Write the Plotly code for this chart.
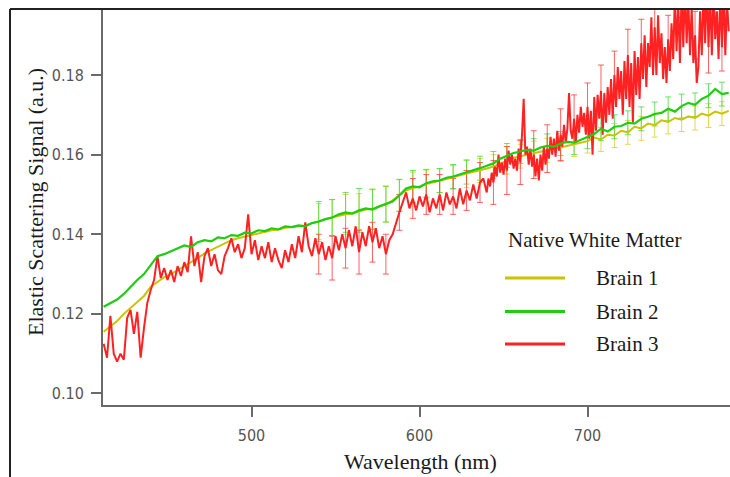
import plotly.graph_objects as go

# ---------------- data ----------------
# Brain 3: 2 nm samples up to 638 nm, then 1 nm samples (very noisy part)
red_wl = list(range(412, 640, 2)) + list(range(640, 785, 1))
red_val = [
    # 412-630 (2 nm)
    0.1125, 0.1090, 0.1195, 0.1100, 0.1080, 0.1100, 0.1085, 0.1190, 0.1210, 0.1150,
    0.1205, 0.1090, 0.1165, 0.1228, 0.1260, 0.1285, 0.1345, 0.1290, 0.1315, 0.1285,
    0.1310, 0.1280, 0.1320, 0.1295, 0.1330, 0.1305, 0.1395, 0.1320, 0.1355, 0.1280,
    0.1345, 0.1365, 0.1320, 0.1350, 0.1310, 0.1300, 0.1345, 0.1365, 0.1390, 0.1355,
    0.1375, 0.1340, 0.1365, 0.1450, 0.1350, 0.1385, 0.1335, 0.1370, 0.1340, 0.1380,
    0.1330, 0.1365, 0.1335, 0.1315, 0.1360, 0.1330, 0.1375, 0.1340, 0.1395, 0.1355,
    0.1430, 0.1370, 0.1345, 0.1390, 0.1350, 0.1380, 0.1335, 0.1370, 0.1340, 0.1395,
    0.1360, 0.1400, 0.1365, 0.1410, 0.1370, 0.1420, 0.1355, 0.1405, 0.1370, 0.1420,
    0.1380, 0.1415, 0.1365, 0.1395, 0.1350, 0.1385, 0.1400, 0.1430, 0.1455, 0.1480,
    0.1505, 0.1465, 0.1490, 0.1460, 0.1495, 0.1470, 0.1500, 0.1455, 0.1490, 0.1465,
    0.1500, 0.1460, 0.1505, 0.1475, 0.1495, 0.1465, 0.1515, 0.1475, 0.1510, 0.1485,
    # 632-638 (2 nm)
    0.1525, 0.1490, 0.1530, 0.1540,
    # 640-784 (1 nm)
    0.1505, 0.1540, 0.1520, 0.1555, 0.1530, 0.1570, 0.1545, 0.1600, 0.1555, 0.1580,
    0.1550, 0.1590, 0.1560, 0.1610, 0.1575, 0.1600, 0.1565, 0.1590, 0.1560, 0.1615,
    0.1580, 0.1650, 0.1740, 0.1600, 0.1620, 0.1575, 0.1615, 0.1570, 0.1600, 0.1545,
    0.1590, 0.1535, 0.1600, 0.1560, 0.1620, 0.1575, 0.1615, 0.1590, 0.1645, 0.1600,
    0.1640, 0.1595, 0.1660, 0.1610, 0.1650, 0.1620, 0.1675, 0.1630, 0.1665, 0.1755,
    0.1660, 0.1640, 0.1690, 0.1630, 0.1700, 0.1655, 0.1720, 0.1670, 0.1705, 0.1650,
    0.1720, 0.1640, 0.1710, 0.1600, 0.1745, 0.1660, 0.1750, 0.1690, 0.1760, 0.1650,
    0.1755, 0.1680, 0.1770, 0.1700, 0.1790, 0.1690, 0.1800, 0.1720, 0.1820, 0.1740,
    0.1810, 0.1700, 0.1835, 0.1740, 0.1850, 0.1720, 0.1830, 0.1680, 0.1860, 0.1750,
    0.1845, 0.1740, 0.1880, 0.1790, 0.1900, 0.1770, 0.1880, 0.1820, 0.1945, 0.1800,
    0.1920, 0.1800, 0.1950, 0.1830, 0.1905, 0.1790, 0.1870, 0.1780, 0.1890, 0.1810,
    0.1930, 0.1840, 0.2000, 0.1860, 0.1980, 0.1830, 0.2010, 0.1870, 0.2020, 0.1880,
    0.1990, 0.1850, 0.1970, 0.1830, 0.1900, 0.1780, 0.1820, 0.1960, 0.1850, 0.2010,
    0.1880, 0.2030, 0.1870, 0.2000, 0.1850, 0.2020, 0.1890, 0.1960, 0.1840, 0.2010,
    0.1870, 0.2020, 0.1850, 0.1990, 0.1910,
]

smooth_wl = list(range(412, 785, 4))
green_val = [
    0.1218, 0.1228, 0.1236, 0.1250, 0.1268, 0.1285, 0.1300, 0.1322, 0.1345, 0.1350,
    0.1358, 0.1365, 0.1372, 0.1368, 0.1380, 0.1385, 0.1382, 0.1392, 0.1390, 0.1398,
    0.1396, 0.1404, 0.1402, 0.1410, 0.1408, 0.1415, 0.1412, 0.1420, 0.1418, 0.1422,
    0.1420, 0.1428, 0.1432, 0.1438, 0.1442, 0.1450, 0.1455, 0.1452, 0.1460, 0.1465,
    0.1462, 0.1470, 0.1476, 0.1482, 0.1498, 0.1515, 0.1520, 0.1518, 0.1528, 0.1533,
    0.1535, 0.1542, 0.1545, 0.1550, 0.1556, 0.1560, 0.1566, 0.1572, 0.1578, 0.1590,
    0.1598, 0.1604, 0.1608, 0.1612, 0.1610, 0.1618, 0.1622, 0.1620, 0.1628, 0.1632,
    0.1630, 0.1638, 0.1645, 0.1652, 0.1665, 0.1658, 0.1670, 0.1672, 0.1680, 0.1678,
    0.1690, 0.1695, 0.1702, 0.1705, 0.1715, 0.1708, 0.1722, 0.1730, 0.1725, 0.1740,
    0.1748, 0.1765, 0.1752, 0.1755,
]
yellow_val = [
    0.1155, 0.1168, 0.1182, 0.1200, 0.1215, 0.1230, 0.1245, 0.1268, 0.1280, 0.1292,
    0.1300, 0.1310, 0.1318, 0.1328, 0.1340, 0.1352, 0.1360, 0.1368, 0.1376, 0.1385,
    0.1390, 0.1394, 0.1397, 0.1402, 0.1405, 0.1410, 0.1412, 0.1416, 0.1418, 0.1420,
    0.1422, 0.1428, 0.1432, 0.1438, 0.1442, 0.1446, 0.1450, 0.1452, 0.1457, 0.1462,
    0.1464, 0.1469, 0.1475, 0.1485, 0.1497, 0.1510, 0.1516, 0.1520, 0.1526, 0.1530,
    0.1534, 0.1538, 0.1543, 0.1548, 0.1552, 0.1556, 0.1560, 0.1565, 0.1570, 0.1578,
    0.1586, 0.1592, 0.1596, 0.1600, 0.1604, 0.1608, 0.1611, 0.1614, 0.1618, 0.1621,
    0.1625, 0.1630, 0.1634, 0.1643, 0.1638, 0.1650, 0.1648, 0.1660, 0.1656, 0.1670,
    0.1666, 0.1678, 0.1674, 0.1686, 0.1682, 0.1692, 0.1688, 0.1696, 0.1692, 0.1703,
    0.1698, 0.1708, 0.1703, 0.1710,
]

# error bars at every 8 nm from 540 to 780 nm
err_wl = list(range(540, 781, 8))
yellow_err = [0.0045, 0.0045, 0.0050, 0.0045, 0.0050, 0.0045, 0.0040, 0.0040,
              0.0035, 0.0030, 0.0030, 0.0035, 0.0030, 0.0030, 0.0035, 0.0030,
              0.0030, 0.0030, 0.0035, 0.0030, 0.0030, 0.0030, 0.0030, 0.0030,
              0.0030, 0.0030, 0.0030, 0.0030, 0.0030, 0.0030, 0.0030]
green_err = [0.0050, 0.0045, 0.0050, 0.0055, 0.0050, 0.0045, 0.0040, 0.0040,
             0.0035, 0.0030, 0.0030, 0.0030, 0.0030, 0.0030, 0.0030, 0.0030,
             0.0030, 0.0030, 0.0030, 0.0030, 0.0030, 0.0030, 0.0030, 0.0030,
             0.0030, 0.0030, 0.0030, 0.0030, 0.0030, 0.0030, 0.0030]
red_err = [0.0050, 0.0055, 0.0050, 0.0055, 0.0050, 0.0050, 0.0045, 0.0050,
           0.0050, 0.0050, 0.0045, 0.0050, 0.0050, 0.0055, 0.0060, 0.0055,
           0.0060, 0.0060, 0.0065, 0.0060, 0.0060, 0.0065, 0.0060, 0.0065,
           0.0060, 0.0065, 0.0060, 0.0065, 0.0060, 0.0065, 0.0060]

series_names = ["Brain 1", "Brain 2", "Brain 3"]
legend_title = "Native White Matter"
x_title = "Wavelength (nm)"
y_title = "Elastic Scattering Signal (a.u.)"
x_ticks = [500, 600, 700]
y_ticks = [0.10, 0.12, 0.14, 0.16, 0.18]

assert len(red_wl) == len(red_val)
assert len(smooth_wl) == len(green_val) == len(yellow_val)

# ---------------- styling ----------------
YEL = "#c9c400"
GRN = "#1fcc10"
RED = "#ff2222"
AXC = "#6a6a6a"
SERIF = "Liberation Serif, Times New Roman, serif"
NARROW = "DejaVu Sans Condensed, Liberation Sans Narrow, Arial Narrow, sans-serif"

fig = go.Figure()

def add_errbars(wl, vals, err, errcolor):
    ys = [vals[wl.index(w)] for w in err_wl]
    fig.add_trace(go.Scatter(
        x=err_wl, y=ys, mode="markers",
        marker=dict(size=1, color="rgba(0,0,0,0)"),
        error_y=dict(type="data", array=err, thickness=1, width=3, color=errcolor),
        showlegend=False, hoverinfo="skip"))

# error bars (drawn first, underneath lines)
add_errbars(smooth_wl, yellow_val, yellow_err, "rgba(215,210,40,0.8)")
add_errbars(smooth_wl, green_val, green_err, "rgba(60,215,60,0.75)")
add_errbars(red_wl, red_val, red_err, "rgba(255,60,60,0.8)")

fig.add_trace(go.Scatter(x=smooth_wl, y=yellow_val, mode="lines", name=series_names[0],
                         line=dict(color=YEL, width=2), showlegend=False))
fig.add_trace(go.Scatter(x=red_wl, y=red_val, mode="lines", name=series_names[2],
                         line=dict(color=RED, width=2), showlegend=False))
fig.add_trace(go.Scatter(x=smooth_wl, y=green_val, mode="lines", name=series_names[1],
                         line=dict(color=GRN, width=2.2), showlegend=False))

# plot geometry in px
L, R, T, B = 103, 0, 10, 72
W, H = 730, 477
PW, PH = W - L - R, H - T - B

def px(xp):
    return (xp - L) / PW

def py(yp):
    return (H - B - yp) / PH

shapes = []
annotations = []
# outer frame (top + left)
shapes.append(dict(type="line", xref="paper", yref="paper", x0=px(10), x1=px(730),
                   y0=py(9), y1=py(9), line=dict(color="#222222", width=2)))
shapes.append(dict(type="line", xref="paper", yref="paper", x0=px(10), x1=px(10),
                   y0=py(9), y1=py(478), line=dict(color="#222222", width=2)))

# manual legend
leg_colors = [YEL, GRN, RED]
leg_y = [278, 311.5, 344]
for name, c, yy in zip(series_names, leg_colors, leg_y):
    shapes.append(dict(type="line", xref="paper", yref="paper", x0=px(505), x1=px(565),
                       y0=py(yy), y1=py(yy), line=dict(color=c, width=3)))
    annotations.append(dict(xref="paper", yref="paper", x=px(594), y=py(yy), text=name,
                            showarrow=False, xanchor="left", yanchor="middle",
                            font=dict(family=SERIF, size=21, color="#1a1a1a")))
annotations.append(dict(xref="paper", yref="paper", x=px(594), y=py(240), text=legend_title,
                        showarrow=False, xanchor="center", yanchor="middle",
                        font=dict(family=SERIF, size=21, color="#1a1a1a")))
# axis titles
annotations.append(dict(xref="paper", yref="paper", x=px(420), y=py(461), text=x_title,
                        showarrow=False, xanchor="center", yanchor="middle",
                        font=dict(family=SERIF, size=22, color="#1a1a1a")))
annotations.append(dict(xref="paper", yref="paper", x=px(35), y=py(202), text=y_title,
                        showarrow=False, xanchor="center", yanchor="middle", textangle=-90,
                        font=dict(family=SERIF, size=22, color="#1a1a1a")))

fig.update_layout(
    width=W, height=H,
    margin=dict(l=L, r=R, t=T, b=B, pad=0),
    paper_bgcolor="white", plot_bgcolor="white",
    showlegend=False,
    shapes=shapes, annotations=annotations,
)
fig.update_xaxes(range=[411.6, 784.8], tickvals=x_ticks, ticktext=[str(v) for v in x_ticks],
                 showline=True, linecolor=AXC, linewidth=2, ticks="outside", ticklen=10,
                 tickwidth=1.5, tickcolor=AXC, showgrid=False, zeroline=False,
                 tickfont=dict(family=NARROW, size=16, color="#555555"),
                 ticklabelstandoff=5)
fig.update_yaxes(range=[0.09711, 0.19633], tickvals=y_ticks,
                 ticktext=["%.2f" % v for v in y_ticks],
                 showline=True, linecolor=AXC, linewidth=2, ticks="outside", ticklen=10,
                 tickwidth=1.5, tickcolor=AXC, showgrid=False, zeroline=False,
                 tickfont=dict(family=NARROW, size=16, color="#555555"),
                 ticklabelstandoff=4)

fig.write_html("out.html")
